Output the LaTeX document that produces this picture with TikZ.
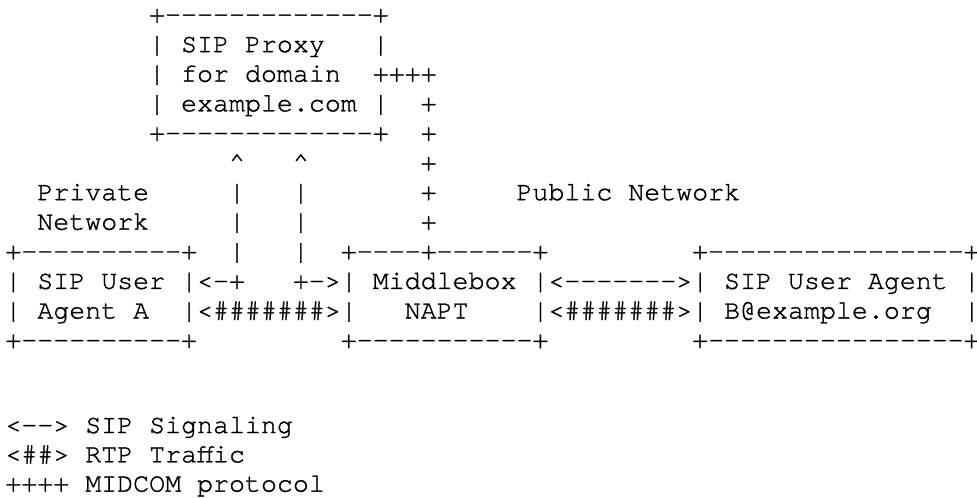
\documentclass[tikz,border=0pt]{standalone}
\usepackage{fontspec}
\setmonofont[FakeBold=1.2]{TeX Gyre Cursor}

\begin{document}
\begin{tikzpicture}[x=0.5pt,y=-0.5pt,
    row/.style={anchor=base west, inner sep=0pt, font=\ttfamily\fontsize{13.31}{14}\selectfont}]

    \useasboundingbox (0,0) rectangle (977,497);

    % these are the rows of the figure
    \node[row] (r1)  at (5,22.5)  {~~~~~~~~~+-------------+};
    \node[row] (r2)  at (5,52.1)  {~~~~~~~~~|~SIP~Proxy~~~|};
    \node[row] (r3)  at (5,81.7)  {~~~~~~~~~|~for~domain~~++++};
    \node[row] (r4)  at (5,111.3) {~~~~~~~~~|~example.com~|~~+};
    \node[row] (r5)  at (5,140.9) {~~~~~~~~~+-------------+~~+};
    \node[row] (r6)  at (5,170.5) {~~~~~~~~~~~~~~\textasciicircum~~~\textasciicircum~~~~~~~+};
    \node[row] (r7)  at (5,200.1) {~~Private~~~~~|~~~|~~~~~~~+~~~~~Public~Network};
    \node[row] (r8)  at (5,229.7) {~~Network~~~~~|~~~|~~~~~~~+};
    \node[row] (r9)  at (5,259.3) {+----------+~~|~~~|~~+----+------+~~~~~~~~~+----------------+};
    \node[row] (r10) at (5,288.9) {|~SIP~User~|<-+~~~+->|~Middlebox~|<------->|~SIP~User~Agent~|};
    \node[row] (r11) at (5,318.5) {|~Agent~A~~|<\#\#\#\#\#\#\#>|~~~NAPT~~~~|<\#\#\#\#\#\#\#>|~B@example.org~~|};
    \node[row] (r12) at (5,348.1) {+----------+~~~~~~~~~+-----------+~~~~~~~~~+----------------+};

    % legend
    \node[row] (l1) at (5,433.0) {<-->~SIP~Signaling};
    \node[row] (l2) at (5,462.3) {<\#\#>~RTP~Traffic};
    \node[row] (l3) at (5,491.6) {++++~MIDCOM~protocol};

\end{tikzpicture}
\end{document}
